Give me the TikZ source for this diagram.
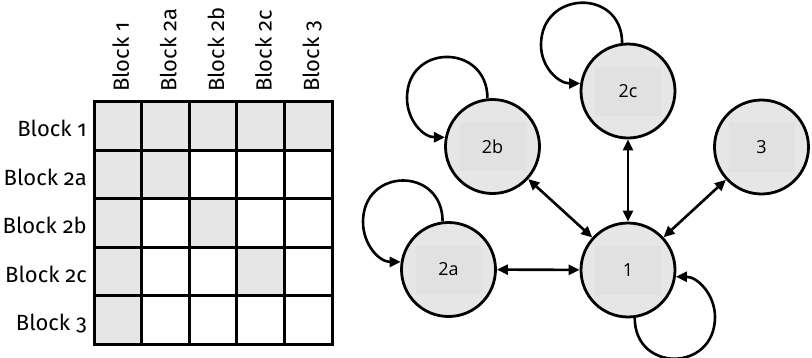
\documentclass[tikz,border=0pt]{standalone}
\usepackage{fontspec}
\setmainfont{Fira Sans}[Numbers=OldStyle]
\newfontfamily\statefont{Open Sans}
\usetikzlibrary{arrows.meta}
\definecolor{ink}{HTML}{000000}
\definecolor{cell}{HTML}{E6E6E6}
\definecolor{cellbox}{HTML}{E1E1E1}
\tikzset{
  every node/.style={text=ink},
  blocklab/.style={font=\fontsize{22}{26}\selectfont,inner sep=0},
  rowlab/.style={blocklab,anchor=base east},
  collab/.style={blocklab,anchor=base west,rotate=90},
  gridline/.style={draw=ink,line width=3pt},
  state/.style={circle,draw=ink,line width=2.8pt,fill=cell,minimum size=94pt,inner sep=0,
    font=\statefont\fontsize{18}{22}\selectfont,
    path picture={\fill[cellbox] ([xshift=-33pt,yshift=-24.5pt]path picture bounding box.center)
      rectangle ([xshift=33pt,yshift=24.5pt]path picture bounding box.center);}},
  link/.style={{Triangle[length=11pt,width=10pt]}-{Triangle[length=11pt,width=10pt]},line width=2.6pt,draw=ink},
  selfloop/.style={-{Triangle[length=11pt,width=10pt]},line width=2.6pt,draw=ink}
}

\begin{document}
\begin{tikzpicture}[x=1pt,y=-1pt]
  \path[use as bounding box] (0,0) rectangle (812,357);
  \def\gx{94} \def\gy{101.7} \def\cw{47.6} \def\ch{48.5}

  % shaded cells: first row, first column, diagonal
  \fill[cell] (\gx,\gy) rectangle ({\gx+5*\cw},{\gy+\ch});
  \fill[cell] (\gx,\gy) rectangle ({\gx+\cw},{\gy+5*\ch});
  \foreach \i in {2,3,4}
    \fill[cell] ({\gx+(\i-1)*\cw},{\gy+(\i-1)*\ch}) rectangle ({\gx+\i*\cw},{\gy+\i*\ch});

  % grid
  \foreach \i in {1,...,4} {
    \draw[gridline] ({\gx+\i*\cw},\gy) -- ({\gx+\i*\cw},{\gy+5*\ch});
    \draw[gridline] (\gx,{\gy+\i*\ch}) -- ({\gx+5*\cw},{\gy+\i*\ch});
  }
  \draw[gridline] (\gx,\gy) rectangle ({\gx+5*\cw},{\gy+5*\ch});

  % labels
  \foreach \lab [count=\i] in {Block 1,Block 2a,Block 2b,Block 2c,Block 3} {
    \node[rowlab] (row\i) at (87,{\gy+(\i-0.5)*\ch+11}) {\lab};
    \node[collab] (col\i) at ({\gx+(\i-0.5)*\cw+11},92) {\lab};
  }

  % graph
  \node[state] (n2c) at (628,91) {2c};
  \node[state] (n2b) at (492.5,146.5) {2b};
  \node[state] (n3) at (761.5,147) {3};
  \node[state] (n2a) at (448.5,269.5) {2a};
  \node[state] (n1) at (628,270) {1};

  \draw[link] (n2a) -- (n1);
  \draw[link] (n2b) -- (n1);
  \draw[link] (n2c) -- (n1);
  \draw[link] (n3) -- (n1);

  % self loops, through their far point
  \coordinate (l2c) at ([shift={(-87,-46)}]n2c.center);
  \coordinate (l2b) at ([shift={(-85.5,-48.5)}]n2b.center);
  \coordinate (l2a) at ([shift={(-85.5,-47.5)}]n2a.center);
  \coordinate (l1) at ([shift={(87,47)}]n1.center);
  \draw[selfloop] (n2c.97) to[out=90,in=90,distance=55pt] (l2c) to[out=270,in=180,distance=22pt] (n2c.171);
  \draw[selfloop] (n2b.96) to[out=90,in=90,distance=55pt] (l2b) to[out=270,in=180,distance=22pt] (n2b.169);
  \draw[selfloop] (n2a.97) to[out=90,in=90,distance=55pt] (l2a) to[out=270,in=180,distance=22pt] (n2a.171);
  \draw[selfloop] (n1.278) to[out=270,in=270,distance=55pt] (l1) to[out=90,in=0,distance=22pt] (n1.352);
\end{tikzpicture}
\end{document}
